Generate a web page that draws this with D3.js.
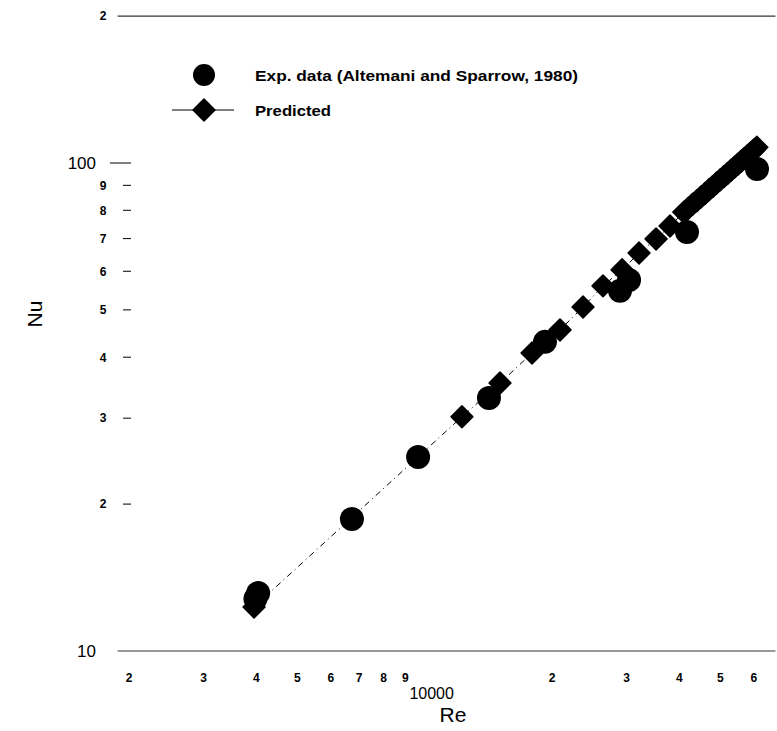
<!DOCTYPE html>
<html><head><meta charset="utf-8">
<script src="https://cdn.jsdelivr.net/npm/d3@7"></script>
<style>body{margin:0;background:#fff}svg{display:block}text{font-family:"Liberation Sans",Arial,sans-serif;fill:#000}</style>
</head><body>
<script>
// ---- data ----
const expRe = [3980, 4040, 6730, 9650, 14190, 19250, 28960, 30420, 41700, 61040];
const expNu = [12.8, 13.15, 18.64, 24.98, 33.0, 43.0, 54.7, 57.6, 72.2, 97.2];
const predRe = [3950, 12250, 15070, 17940, 20890, 23680, 26400, 29290, 32120, 35240, 38020,
  41000, 42000, 43000, 44000, 45000, 46000, 47000, 48000, 49000, 50000, 51000, 52000, 53000,
  54000, 55000, 56000, 57000, 58000, 59000, 60000, 61000];
const predNu = [12.31, 30.2, 35.4, 40.8, 45.5, 50.7, 56.0, 60.4, 65.4, 69.9, 74.3,
  79.3, 80.8, 82.3, 83.7, 85.2, 86.6, 88.1, 89.5, 91.0, 92.4, 93.8, 95.2, 96.6,
  98.0, 99.4, 100.8, 102.2, 103.6, 105.0, 106.3, 107.7];
const xTickValues = [2000, 3000, 4000, 5000, 6000, 7000, 8000, 9000, 20000, 30000, 40000, 50000, 60000];
const xTickLabels = ["2", "3", "4", "5", "6", "7", "8", "9", "2", "3", "4", "5", "6"];
const xMajor = 10000, xMajorLabel = "10000";
const yMinorValues = [20, 30, 40, 50, 60, 70, 80, 90, 200];
const yMinorLabels = ["2", "3", "4", "5", "6", "7", "8", "9", "2"];
const yMajorValues = [10, 100];
const yMajorLabels = ["10", "100"];
const xExtent = [1880, 67500];
const legendLabels = ["Exp. data (Altemani and Sparrow, 1980)", "Predicted"];

// ---- drawing ----
const W = 777, H = 731;
const svg = d3.select("body").append("svg").attr("width", W).attr("height", H);
const x = d3.scaleLog().domain([2000, 20000]).range([129, 552]);
const y = d3.scaleLog().domain([10, 100]).range([651, 163]);

// frame lines (top at 200, bottom at 10)
[10, 200].forEach(v => {
  svg.append("line").attr("x1", x(xExtent[0])).attr("x2", x(xExtent[1]))
    .attr("y1", y(v)).attr("y2", y(v)).attr("stroke", "#333").attr("stroke-width", 1.2);
});

// y ticks
yMajorValues.forEach((v, i) => {
  if (v === 100) svg.append("line").attr("x1", 110).attr("x2", 131).attr("y1", y(v)).attr("y2", y(v)).attr("stroke", "#000");
  svg.append("text").attr("x", 96).attr("y", y(v)).attr("dy", "0.36em").attr("text-anchor", "end")
    .attr("font-size", 17).text(yMajorLabels[i]);
});
yMinorValues.forEach((v, i) => {
  if (v !== 200) svg.append("line").attr("x1", 123).attr("x2", 131).attr("y1", y(v)).attr("y2", y(v)).attr("stroke", "#000");
  svg.append("text").attr("x", 103).attr("y", y(v)).attr("dy", "0.36em").attr("text-anchor", "middle")
    .attr("font-size", 12).attr("font-weight", "bold").text(yMinorLabels[i]);
});

// x tick labels
xTickValues.forEach((v, i) => {
  svg.append("text").attr("x", x(v)).attr("y", 682).attr("text-anchor", "middle")
    .attr("font-size", 12).attr("font-weight", "bold").text(xTickLabels[i]);
});
svg.append("text").attr("x", x(xMajor) + 7).attr("y", 699).attr("text-anchor", "middle")
  .attr("font-size", 16).text(xMajorLabel);

// axis titles
svg.append("text").attr("x", 453).attr("y", 722).attr("text-anchor", "middle").attr("font-size", 21).text("Re");
svg.append("text").attr("transform", "translate(42,314) rotate(-90)").attr("text-anchor", "middle").attr("font-size", 21).text("Nu");

// predicted line
const pred = predRe.map((r, i) => [r, predNu[i]]);
const line = d3.line().x(d => x(d[0])).y(d => y(d[1]));
svg.append("path").datum(pred).attr("d", line).attr("fill", "none").attr("stroke", "#000")
  .attr("stroke-width", 1).attr("stroke-dasharray", "6,4,1,4");

const diamond = d3.symbol().type(d3.symbolSquare).size(240);
svg.append("g").selectAll("path").data(pred).join("path")
  .attr("d", diamond)
  .attr("transform", d => `translate(${x(d[0])},${y(d[1])}) rotate(45)`)
  .attr("fill", "#000").attr("stroke", "#000").attr("stroke-width", 1.5).attr("stroke-linejoin", "round");

// experimental circles
const exp = expRe.map((r, i) => [r, expNu[i]]);
svg.append("g").selectAll("circle").data(exp).join("circle")
  .attr("cx", d => x(d[0])).attr("cy", d => y(d[1])).attr("r", 12).attr("fill", "#000");

// legend
svg.append("circle").attr("cx", 204).attr("cy", 75).attr("r", 11).attr("fill", "#000");
svg.append("text").attr("x", 255).attr("y", 75).attr("dy", "0.36em").attr("font-size", 15.5).attr("font-weight", "bold")
  .attr("textLength", 323).attr("lengthAdjust", "spacingAndGlyphs").text(legendLabels[0]);
svg.append("line").attr("x1", 172).attr("x2", 234).attr("y1", 110).attr("y2", 110).attr("stroke", "#000").attr("stroke-width", 1);
svg.append("path").attr("d", diamond).attr("transform", "translate(204,110) rotate(45)")
  .attr("fill", "#000").attr("stroke", "#000").attr("stroke-width", 1.5).attr("stroke-linejoin", "round");
svg.append("text").attr("x", 255).attr("y", 110).attr("dy", "0.36em").attr("font-size", 15.5).attr("font-weight", "bold")
  .attr("textLength", 76).attr("lengthAdjust", "spacingAndGlyphs").text(legendLabels[1]);
</script>
</body></html>
